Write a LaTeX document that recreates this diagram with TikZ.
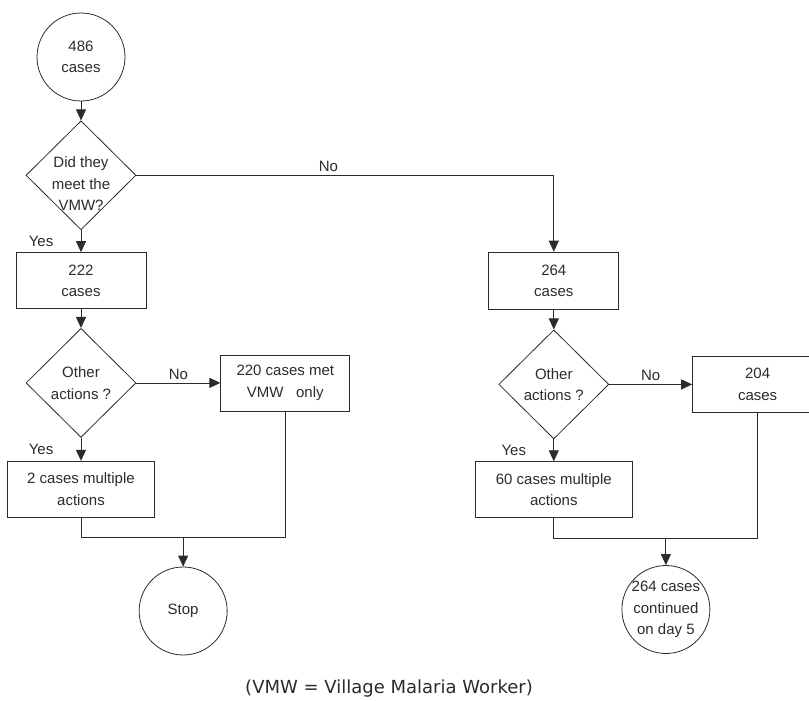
\documentclass[tikz,border=0pt]{standalone}
\usepackage{fontspec}
\setmainfont{Liberation Sans}
\newfontfamily\capfont{DejaVu Sans}
\usetikzlibrary{positioning,arrows.meta,shapes.geometric,calc}
\definecolor{cLine}{HTML}{2B2B2B}
\tikzset{
  node-state/.style={draw=cLine,circle,minimum size=88pt,inner sep=-4pt,align=center},
  node-box/.style={draw=cLine,rectangle,minimum width=130pt,minimum height=56pt,align=center},
  node-decision/.style={draw=cLine,diamond,minimum width=110pt,minimum height=109pt,
    inner sep=-4pt,align=center},
  arrow/.style={-{Triangle[length=11pt,width=10pt]},draw=cLine},
  link/.style={draw=cLine},
}

\begin{document}
\begin{tikzpicture}[x=1pt,y=-1pt,line width=0.8pt,text=cLine,
    font=\fontsize{15}{21.5}\selectfont]
  \useasboundingbox (0,0) rectangle (809,701);
  % met the VMW
  \node[node-state]                          (start)  at (81,57) {486\\cases};
  \node[node-decision,below=19pt of start,
    label={[align=center,yshift=-8.5pt]center:Did they\\meet the\\VMW?}] (meet) {};
  \node[node-box,below=22pt of meet]         (yes1)   {222\\cases};
  \node[node-decision,below=19pt of yes1]    (other1) {Other\\actions ?};
  \node[node-box,minimum width=147pt,below=23pt of other1] (multi1) {2 cases multiple\\actions};
  \node[node-box,minimum width=129pt,right=84pt of other1]  (only1)  {220 cases met\\VMW\ \ \ only};
  \coordinate[below=20pt of multi1.south] (l1);
  \coordinate (r1) at (l1 -| only1.south);
  \coordinate (m1) at ($(l1)!.5!(r1)$);
  \node[node-state,below=29pt of m1]         (stop)   {Stop};
  % did not meet the VMW
  \node[node-box,minimum height=57pt,right=342pt of yes1] (no1) {264\\cases};
  \node[node-decision,below=20pt of no1]     (other2) {Other\\actions ?};
  \node[node-box,minimum width=157pt,below=22pt of other2] (multi2) {60 cases multiple\\actions};
  \node[node-box,right=83pt of other2]       (only2)  {204\\cases};
  \coordinate[below=20pt of multi2.south] (l2);
  \coordinate (r2) at (l2 -| only2.south);
  \coordinate (m2) at ($(l2)!.55!(r2)$);
  \node[node-state,below=27pt of m2]         (day5)   {264 cases\\continued\\on day 5};
  \node[font=\capfont\fontsize{18}{22}\selectfont] (note) at (389,689) {(VMW = Village Malaria Worker)};

  \draw[arrow] (start) -- (meet);
  \draw[arrow] (meet) -- node[left=24pt] {Yes} (yes1);
  \draw[arrow] (meet.east) -| node[above,pos=.23] {No} (no1);
  \draw[arrow] (yes1) -- (other1);
  \draw[arrow] (other1) -- node[left=24pt] {Yes} (multi1);
  \draw[arrow] (other1) -- node[above] {No} (only1);
  \draw[link]  (multi1) -- (l1) -- (r1) -- (only1);
  \draw[arrow] (m1) -- (stop);
  \draw[arrow] (no1) -- (other2);
  \draw[arrow] (other2) -- node[left=24pt] {Yes} (multi2);
  \draw[arrow] (other2) -- node[above] {No} (only2);
  \draw[link]  (multi2) -- (l2) -- (r2) -- (only2);
  \draw[arrow] (m2) -- (day5);
\end{tikzpicture}
\end{document}
